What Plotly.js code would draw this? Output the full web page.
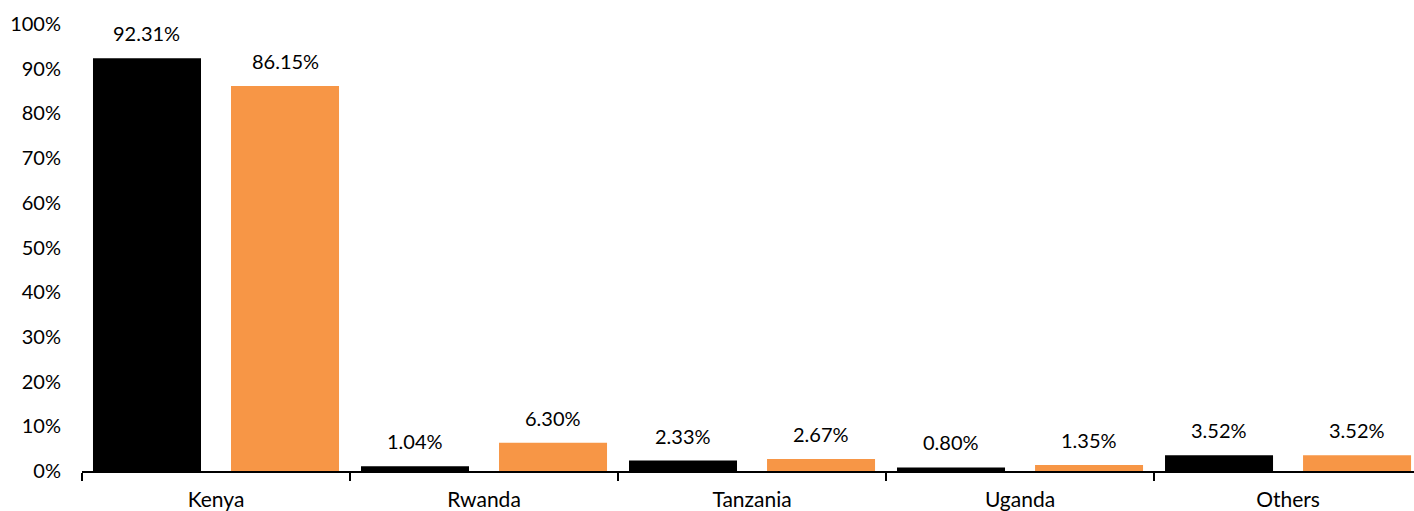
<!DOCTYPE html>
<html>
<head>
<meta charset="utf-8">
<script src="https://cdn.plot.ly/plotly-3.0.1.min.js"></script>
<style>html,body{margin:0;padding:0;background:#fff;}#chart{width:1414px;height:511px;}</style>
</head>
<body>
<div id="chart"></div>
<script>
const categories = ["Kenya", "Rwanda", "Tanzania", "Uganda", "Others"];
const seriesA = [0.9231, 0.0104, 0.0233, 0.0080, 0.0352];
const seriesB = [0.8615, 0.0630, 0.0267, 0.0135, 0.0352];
const labelsA = ["92.31%", "1.04%", "2.33%", "0.80%", "3.52%"];
const labelsB = ["86.15%", "6.30%", "2.67%", "1.35%", "3.52%"];

const W = 0.403, OFFA = -0.459, OFFB = 0.056;
const FONT = "Lato, 'Open Sans', sans-serif";

const traces = [
  {type: "bar", name: "Series A", x: categories, y: seriesA, width: W, offset: OFFA,
   marker: {color: "#000000"}, hoverinfo: "x+y"},
  {type: "bar", name: "Series B", x: categories, y: seriesB, width: W, offset: OFFB,
   marker: {color: "#F79646"}, hoverinfo: "x+y"}
];

const annotations = [];
categories.forEach((c, i) => {
  annotations.push({x: i + OFFA + W / 2, y: seriesA[i], xref: "x", yref: "y", text: labelsA[i],
    showarrow: false, yanchor: "bottom", yshift: 11, font: {family: FONT, size: 20, color: "#000"}});
  annotations.push({x: i + OFFB + W / 2, y: seriesB[i], xref: "x", yref: "y", text: labelsB[i],
    showarrow: false, yanchor: "bottom", yshift: 11, font: {family: FONT, size: 20, color: "#000"}});
});

const layout = {
  width: 1414, height: 511,
  margin: {l: 82, r: 0, t: 24, b: 40},
  paper_bgcolor: "#fff", plot_bgcolor: "#fff",
  showlegend: false,
  font: {family: FONT, size: 20, color: "#000"},
  xaxis: {
    type: "category", range: [-0.5, 4.47],
    showline: true, linecolor: "#000", linewidth: 1.5,
    ticks: "outside", tickson: "boundaries", ticklen: 8, tickwidth: 1.5, tickcolor: "#000",
    showgrid: false, zeroline: false, ticklabelstandoff: 9,
    tickfont: {family: FONT, size: 21, color: "#000"}
  },
  yaxis: {
    range: [0, 1], tickvals: [0,0.1,0.2,0.3,0.4,0.5,0.6,0.7,0.8,0.9,1],
    tickformat: ".0%", showgrid: false, zeroline: false, showline: false, ticks: "",
    ticklabelstandoff: 20,
    tickfont: {family: FONT, size: 20, color: "#000"}
  },
  annotations: annotations
};

Plotly.newPlot("chart", traces, layout, {displayModeBar: false, staticPlot: true});
</script>
</body>
</html>
